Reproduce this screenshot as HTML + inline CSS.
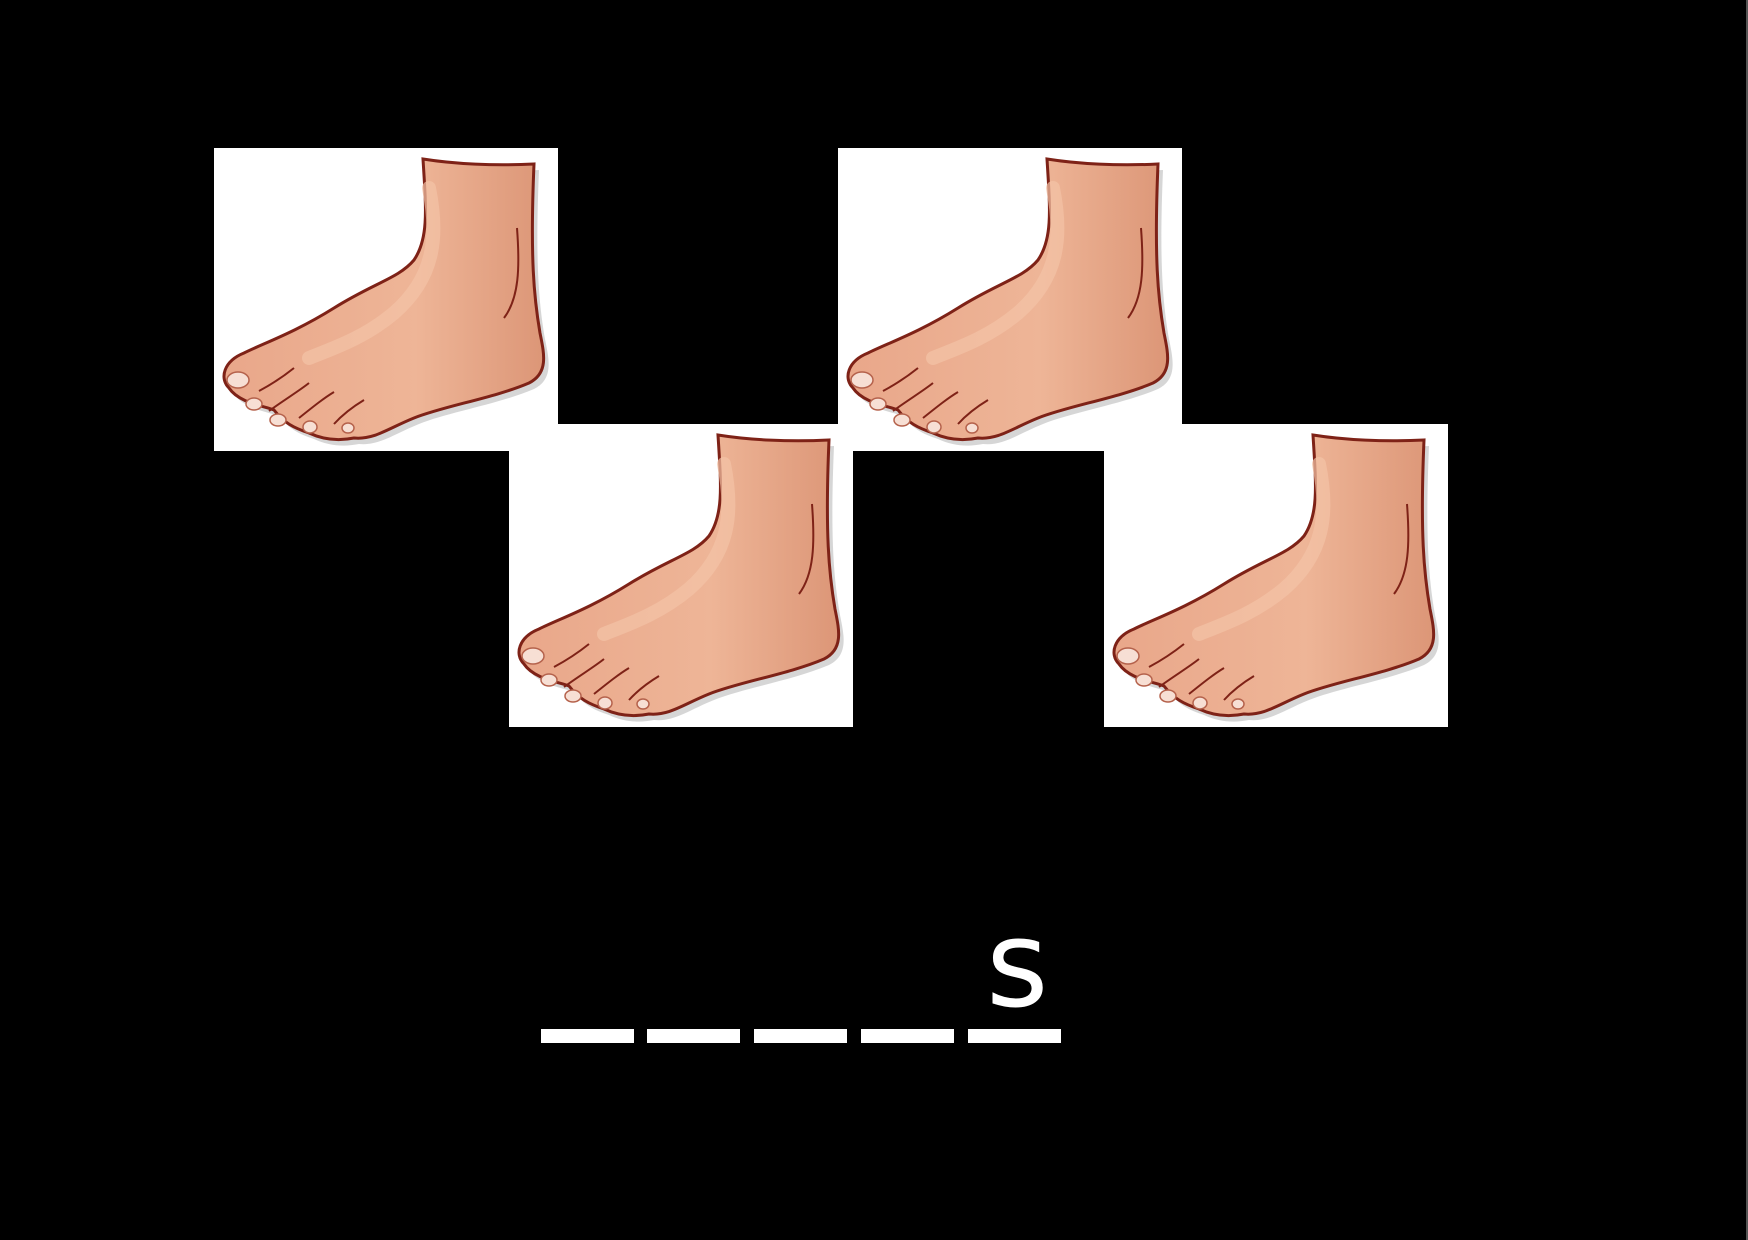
<!DOCTYPE html>
<html><head><meta charset="utf-8"><style>
html,body{margin:0;padding:0;background:#000;}
body{width:1748px;height:1240px;position:relative;overflow:hidden;font-family:"Liberation Sans",sans-serif;}
.card{position:absolute;background:#fff;width:344px;height:303px;}
.card svg{position:absolute;left:0;top:0;}
.dash{position:absolute;top:1029px;height:14px;width:93px;background:#fff;}
#edge{position:absolute;right:0;top:0;width:2px;height:1240px;background:#555;}
#letter{position:absolute;left:986px;top:906px;font-size:120px;color:#fff;line-height:120px;font-family:"DejaVu Sans","Liberation Sans",sans-serif;}
</style></head><body>
<svg width="0" height="0" style="position:absolute">
 <defs>
  <linearGradient id="skin" x1="0" y1="0" x2="1" y2="0">
   <stop offset="0" stop-color="#e9a78a"/><stop offset="0.6" stop-color="#eeb597"/><stop offset="1" stop-color="#dc9677"/>
  </linearGradient>
  <g id="foot">
   <path d="M209,11 C212,60 215,90 200,112 C185,130 160,135 120,160 C80,185 50,195 30,205 C10,213 5,230 15,240 C25,255 50,258 60,262 C70,275 80,280 95,285 C110,292 125,293 140,290 C160,292 175,280 200,270 C230,258 280,250 315,235 C335,225 330,205 326,185 C320,150 316,110 320,16 C280,18 240,16 209,11 Z" transform="translate(5,6)" fill="#bbb" opacity="0.6"/>
   <path d="M209,11 C212,60 215,90 200,112 C185,130 160,135 120,160 C80,185 50,195 30,205 C10,213 5,230 15,240 C25,255 50,258 60,262 C70,275 80,280 95,285 C110,292 125,293 140,290 C160,292 175,280 200,270 C230,258 280,250 315,235 C335,225 330,205 326,185 C320,150 316,110 320,16 C280,18 240,16 209,11 Z" fill="url(#skin)" stroke="#7e2217" stroke-width="3"/>
   <path d="M215,40 C225,90 220,130 180,165 C150,190 120,200 95,210" fill="none" stroke="#f3c3a7" stroke-width="14" opacity="0.7" stroke-linecap="round"/>
   <path d="M303,80 C306,120 305,150 290,170" fill="none" stroke="#7e2217" stroke-width="2"/>
   <g fill="#f7dfd4" stroke="#b5624c" stroke-width="1.5">
    <ellipse cx="24" cy="232" rx="11" ry="8"/>
    <ellipse cx="40" cy="256" rx="8" ry="6"/>
    <ellipse cx="64" cy="272" rx="8" ry="6"/>
    <ellipse cx="96" cy="279" rx="7" ry="6"/>
    <ellipse cx="134" cy="280" rx="6" ry="5"/>
   </g>
   <g fill="none" stroke="#7e2217" stroke-width="2">
    <path d="M45,243 C60,235 70,228 80,220"/>
    <path d="M55,263 C70,252 85,243 95,235"/>
    <path d="M85,270 C100,258 110,250 120,244"/>
    <path d="M120,276 C130,265 140,258 150,252"/>
   </g>
  </g>
 </defs>
</svg>
<div class="card" style="left:214px;top:148px"><svg width="344" height="303"><use href="#foot"/></svg></div>
<div class="card" style="left:509px;top:424px"><svg width="344" height="303"><use href="#foot"/></svg></div>
<div class="card" style="left:838px;top:148px"><svg width="344" height="303"><use href="#foot"/></svg></div>
<div class="card" style="left:1104px;top:424px"><svg width="344" height="303"><use href="#foot"/></svg></div>
<div class="dash" style="left:541px"></div>
<div class="dash" style="left:647px"></div>
<div class="dash" style="left:754px"></div>
<div class="dash" style="left:861px"></div>
<div class="dash" style="left:968px"></div>
<div id="letter">s</div>
<div id="edge"></div>
</body></html>
